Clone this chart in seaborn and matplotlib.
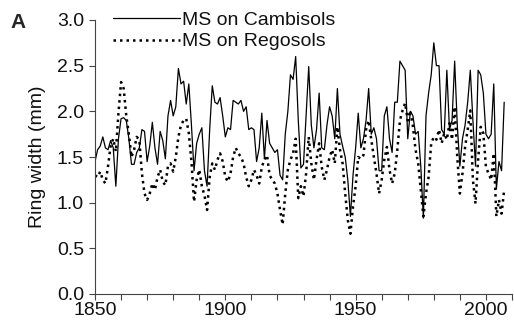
import numpy as np
import pandas as pd
import matplotlib
matplotlib.use("Agg")
import matplotlib.pyplot as plt
from matplotlib.ticker import MultipleLocator, FormatStrFormatter
import seaborn as sns

years = list(range(1850, 2008))

cambisols = [
    1.45, 1.58, 1.62, 1.72, 1.60, 1.58, 1.68, 1.60, 1.18, 1.70,   # 1850-59
    1.92, 1.93, 1.90, 1.70, 1.42, 1.42, 1.55, 1.60, 1.80, 1.78,   # 1860-69
    1.45, 1.62, 1.88, 1.60, 1.42, 1.78, 1.68, 1.48, 1.95, 2.12,   # 1870-79
    1.95, 2.05, 2.47, 2.30, 2.33, 2.08, 2.30, 1.85, 1.35, 1.65,   # 1880-89
    1.75, 1.82, 1.35, 1.18, 1.80, 2.28, 2.10, 2.08, 2.15, 1.95,   # 1890-99
    1.72, 1.82, 1.80, 2.12, 2.10, 2.08, 2.12, 2.00, 2.05, 1.80,   # 1900-09
    1.82, 1.80, 1.45, 1.60, 1.98, 1.48, 1.90, 1.65, 1.60, 1.55,   # 1910-19
    1.58, 1.30, 1.25, 1.75, 2.00, 2.40, 2.35, 2.60, 1.90, 1.38,   # 1920-29
    1.42, 1.95, 2.49, 1.85, 1.60, 1.80, 2.20, 1.60, 1.58, 1.85,   # 1930-39
    2.05, 1.95, 1.70, 2.25, 1.75, 1.62, 1.50, 1.25, 0.85, 1.30,   # 1940-49
    1.60, 1.98, 1.60, 1.70, 1.90, 2.25, 1.75, 1.82, 1.70, 1.35,   # 1950-59
    1.35, 1.95, 2.05, 1.70, 1.55, 2.10, 2.10, 2.55, 2.50, 2.45,   # 1960-69
    1.70, 2.00, 1.95, 1.75, 1.78, 1.40, 0.83, 1.95, 2.20, 2.40,   # 1970-79
    2.75, 2.50, 2.50, 1.80, 1.75, 2.45, 1.80, 1.90, 2.55, 1.85,   # 1980-89
    1.40, 1.70, 1.85, 2.10, 2.45, 1.90, 1.40, 2.45, 2.40, 2.20,   # 1990-99
    1.75, 1.70, 1.75, 2.30, 1.15, 1.45, 1.35, 2.10,               # 2000-07
]

regosols = [
    1.30, 1.28, 1.34, 1.25, 1.21, 1.40, 1.62, 1.70, 1.56, 1.98,   # 1850-59
    2.32, 2.25, 1.95, 1.75, 1.50, 1.58, 1.72, 1.69, 1.32, 1.10,   # 1860-69
    1.03, 1.10, 1.21, 1.14, 1.28, 1.36, 1.23, 1.19, 1.40, 1.43,   # 1870-79
    1.34, 1.50, 1.72, 1.85, 1.90, 1.92, 1.76, 1.45, 1.01, 1.25,   # 1880-89
    1.36, 1.18, 1.08, 0.92, 1.28, 1.43, 1.36, 1.47, 1.54, 1.45,   # 1890-99
    1.28, 1.23, 1.32, 1.50, 1.60, 1.54, 1.50, 1.43, 1.28, 1.18,   # 1900-09
    1.25, 1.36, 1.30, 1.21, 1.39, 1.47, 1.52, 1.30, 1.25, 1.21,   # 1910-19
    1.10, 0.92, 0.76, 1.10, 1.36, 1.47, 1.54, 1.70, 1.05, 1.18,   # 1920-29
    1.07, 1.32, 1.72, 1.43, 1.25, 1.47, 1.65, 1.39, 1.25, 1.36,   # 1930-39
    1.50, 1.58, 1.43, 1.83, 1.58, 1.43, 1.10, 0.81, 0.66, 0.96,   # 1940-49
    1.18, 1.50, 1.48, 1.52, 1.80, 1.90, 1.69, 1.50, 1.32, 1.10,   # 1950-59
    1.25, 1.47, 1.61, 1.36, 1.21, 1.32, 1.58, 1.90, 2.01, 2.09,   # 1960-69
    1.90, 2.01, 1.83, 1.58, 1.43, 1.14, 0.85, 1.10, 1.28, 1.65,   # 1970-79
    1.72, 1.69, 1.80, 1.65, 1.76, 1.69, 1.87, 1.69, 2.05, 1.50,   # 1980-89
    1.10, 1.32, 1.61, 1.80, 2.01, 1.25, 0.99, 1.47, 1.83, 1.76,   # 1990-99
    1.39, 1.32, 1.25, 1.54, 0.85, 1.03, 0.88, 1.14,               # 2000-07
]

labels = ["MS on Cambisols", "MS on Regosols"]
y_ticks = [0.0, 0.5, 1.0, 1.5, 2.0, 2.5, 3.0]
x_major = [1850, 1900, 1950, 2000]

sns.set_style("ticks")
plt.rcParams["font.family"] = ["Liberation Sans", "DejaVu Sans"]

fig = plt.figure(figsize=(5.14, 3.30), dpi=100)
ax = fig.add_axes([95 / 514, 36 / 330, 417 / 514, 274 / 330])

df_c = pd.DataFrame({"year": years, "width": cambisols})
df_r = pd.DataFrame({"year": years, "width": regosols})

sns.lineplot(data=df_c, x="year", y="width", ax=ax, color="black",
             linewidth=0.9, label=labels[0])
sns.lineplot(data=df_r, x="year", y="width", ax=ax, color="black",
             linewidth=1.8, dashes=False, label=labels[1])
ax.lines[1].set_dashes([1.0, 1.6])

ax.set_xlim(1850, 2010)
ax.set_ylim(0, 3.0)
ax.set_xticks(x_major)
ax.xaxis.set_minor_locator(MultipleLocator(10))
ax.set_yticks(y_ticks)
ax.yaxis.set_major_formatter(FormatStrFormatter("%.1f"))
ax.tick_params(axis="both", which="both", direction="out", length=4,
               width=0.8, color="#444444", labelsize=14, pad=2,
               labelcolor="#111111")
ax.tick_params(axis="y", pad=4)
for s in ["top", "right"]:
    ax.spines[s].set_visible(False)
for s in ["left", "bottom"]:
    ax.spines[s].set_linewidth(0.8)
    ax.spines[s].set_color("#444444")

ax.set_xlabel("")
ax.set_ylabel("Ring width (mm)", fontsize=14, labelpad=8, color="#111111")

leg = ax.legend(loc="upper left", bbox_to_anchor=(18 / 417, 1.032),
                frameon=False, fontsize=14, handlelength=3.45,
                handletextpad=0.1, labelspacing=0.2, borderaxespad=0,
                borderpad=0)
for t in leg.get_texts():
    t.set_color("#111111")

fig.text(10 / 514, 1 - 28 / 330, "A", fontsize=15, fontweight="bold")

fig.savefig("out.png", dpi=100)
